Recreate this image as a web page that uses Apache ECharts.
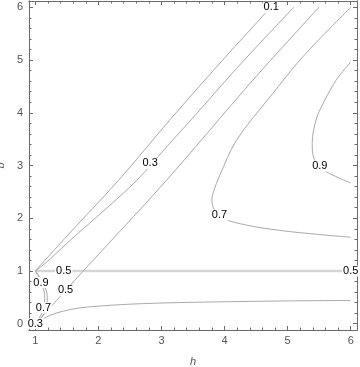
<!DOCTYPE html>
<html>
<head>
<meta charset="utf-8">
<script src="https://cdn.jsdelivr.net/npm/echarts@6/dist/echarts.min.js"></script>
<style>
html,body{margin:0;padding:0;background:#fff;}
#chart{width:360px;height:367px;}
</style>
</head>
<body>
<div id="chart"></div>
<script>
// Tick values
const hTicks = [1, 2, 3, 4, 5, 6];
const bTicks = [0, 1, 2, 3, 4, 5, 6];
const hMinor = [1.2, 1.4, 1.6, 1.8, 2.2, 2.4, 2.6, 2.8, 3.2, 3.4, 3.6, 3.8, 4.2, 4.4, 4.6, 4.8, 5.2, 5.4, 5.6, 5.8];
const bMinor = [0.2, 0.4, 0.6, 0.8, 1.2, 1.4, 1.6, 1.8, 2.2, 2.4, 2.6, 2.8, 3.2, 3.4, 3.6, 3.8, 4.2, 4.4, 4.6, 4.8, 5.2, 5.4, 5.6, 5.8];

// Contour lines, [h, b] points
const c01 = [[1, 1], [1.5, 1.66], [2.32, 2.72], [3.13, 3.86], [4.0, 5.04], [4.64, 5.88], [4.72, 6.0]];
const c03 = [[1, 1], [1.1, 1.09], [1.24, 1.23], [1.55, 1.58], [1.97, 2.02], [2.61, 2.72], [3.13, 3.42], [3.48, 3.88], [4.19, 4.84], [5.08, 5.98], [5.1, 6.0]];
const c05diag = [[1.02, 0.02], [1.48, 0.63], [1.76, 1.0], [3.08, 2.72], [4.45, 4.62], [5.48, 5.98], [5.5, 6.0]];
const c05flat = [[1, 1], [6, 1]];
const c07upper = [[6.0, 6.0], [5.24, 5.06], [4.72, 4.30], [4.19, 3.48], [3.92, 2.8], [3.83, 2.52], [3.80, 2.34], [3.84, 2.16], [3.97, 2.0], [4.35, 1.87], [4.87, 1.77], [5.51, 1.69], [6.0, 1.64]];
const c09right = [[6.0, 4.96], [5.77, 4.62], [5.56, 4.17], [5.45, 3.86], [5.39, 3.42], [5.41, 3.16], [5.5, 2.98], [5.66, 2.85], [6.0, 2.67]];
const c09low = [[1, 1], [1.05, 0.9], [1.10, 0.76], [1.14, 0.6], [1.15, 0.5], [1.14, 0.35], [1.11, 0.22], [1.06, 0.1], [1.02, 0.02]];
const c07low = [[1, 1], [1.06, 0.9], [1.13, 0.76], [1.18, 0.6], [1.19, 0.5], [1.18, 0.35], [1.15, 0.22], [1.09, 0.1], [1.02, 0.02]];
const c03low = [[1.02, 0.02], [1.24, 0.16], [1.45, 0.24], [1.71, 0.30], [1.97, 0.33], [2.5, 0.37], [3.29, 0.40], [4.87, 0.43], [6.0, 0.44]];

// Contour labels: [h, b, text]
const contourLabels = [
  [4.74, 6.0, '0.1'],
  [2.82, 3.04, '0.3'],
  [1.48, 0.63, '0.5'],
  [1.45, 1.0, '0.5'],
  [6.0, 1.0, '0.5'],
  [3.92, 2.06, '0.7'],
  [5.51, 2.99, '0.9'],
  [1.09, 0.78, '0.9'],
  [1.13, 0.30, '0.7'],
  [1.0, 0.0, '0.3']
];

const FONT = 'Liberation Sans, Arial, sans-serif';
const frameColor = '#6a6a6a';
const lineColor = '#a9a9a9';

function xAx(position, ticks, len, labels) {
  return {
    type: 'value', position: position, min: 0.9, max: 6.1,
    axisLine: {show: true, onZero: false, lineStyle: {color: frameColor, width: 1}},
    axisTick: {show: true, inside: true, length: len, customValues: ticks, lineStyle: {color: frameColor}},
    axisLabel: labels ? {show: true, customValues: ticks, color: '#555', fontSize: 11, fontFamily: FONT, margin: 5} : {show: false},
    splitLine: {show: false}
  };
}
function yAx(position, ticks, len, labels) {
  return {
    type: 'value', position: position, min: -0.12, max: 6.12,
    axisLine: {show: true, onZero: false, lineStyle: {color: frameColor, width: 1}},
    axisTick: {show: true, inside: true, length: len, customValues: ticks, lineStyle: {color: frameColor}},
    axisLabel: labels ? {show: true, customValues: ticks, color: '#555', fontSize: 11, fontFamily: FONT, margin: 6} : {show: false},
    splitLine: {show: false}
  };
}

const xAxes = [
  Object.assign(xAx('bottom', hTicks, 4, true), {name: 'h', nameLocation: 'middle', nameGap: 26, nameTextStyle: {color: '#555', fontStyle: 'italic', fontSize: 11, fontFamily: FONT}}),
  xAx('bottom', hMinor, 2.5, false),
  xAx('top', hTicks, 4, false),
  xAx('top', hMinor, 2.5, false)
];
const yAxes = [
  Object.assign(yAx('left', bTicks, 4, true), {name: 'b', nameLocation: 'middle', nameGap: 18, nameRotate: 90, nameTextStyle: {color: '#555', fontStyle: 'italic', fontSize: 11, fontFamily: FONT}}),
  yAx('left', bMinor, 2.5, false),
  yAx('right', bTicks, 4, false),
  yAx('right', bMinor, 2.5, false)
];

function lineSeries(data, opts) {
  opts = opts || {};
  return {
    type: 'line', data: data, xAxisIndex: 0, yAxisIndex: 0,
    showSymbol: false, symbol: 'none', smooth: opts.smooth === undefined ? 0.35 : opts.smooth,
    lineStyle: {color: opts.color || lineColor, width: opts.width || 1},
    silent: true, animation: false, z: 2
  };
}

const series = [
  lineSeries(c05flat, {color: '#d6d6d6', width: 2.5, smooth: false}),
  lineSeries(c01),
  lineSeries(c03),
  lineSeries(c05diag),
  lineSeries(c07upper),
  lineSeries(c09right),
  lineSeries(c09low),
  lineSeries(c07low),
  lineSeries(c03low),
  {
    type: 'scatter', xAxisIndex: 0, yAxisIndex: 0,
    data: contourLabels.map(d => ({value: [d[0], d[1]], name: d[2]})),
    symbolSize: 1, itemStyle: {color: 'rgba(0,0,0,0)'}, silent: true, animation: false, z: 10,
    clip: false,
    label: {
      show: true, position: 'inside', formatter: p => p.name,
      color: '#000', fontSize: 11, fontFamily: FONT, opacity: 1,
      backgroundColor: '#fff', padding: [0, 1, 0, 1]
    }
  }
];

const chart = echarts.init(document.getElementById('chart'), null, {renderer: 'canvas'});
chart.setOption({
  backgroundColor: '#fff',
  animation: false,
  grid: {left: 29, top: 1, width: 328, height: 329, containLabel: false, outerBoundsMode: 'none'},
  xAxis: xAxes,
  yAxis: yAxes,
  series: series
});
</script>
</body>
</html>
